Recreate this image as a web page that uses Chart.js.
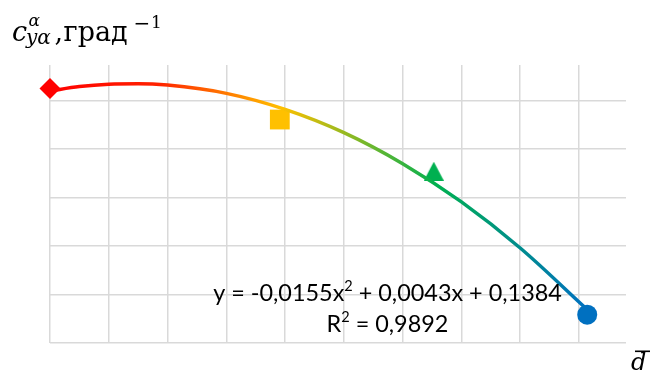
<!DOCTYPE html>
<html>
<head>
<meta charset="utf-8">
<script src="https://cdn.jsdelivr.net/npm/chart.js@4.4.1/dist/chart.umd.min.js"></script>
<style>
  html, body { margin: 0; padding: 0; background: #ffffff; }
  #wrap { width: 652px; height: 380px; }
</style>
</head>
<body>
<div id="wrap"><canvas id="c" width="652" height="380"></canvas></div>
<script>
// ---- data ----
const pointX = [0, 0.391, 0.653, 0.914];
const pointY = [0.1385, 0.13722, 0.13509, 0.12917];
const pointColors = ['#FF0000', '#FFC000', '#00B050', '#0070C0'];

const trendX = [0, 0.05, 0.1, 0.15, 0.2, 0.3, 0.4, 0.5, 0.6, 0.7, 0.8, 0.914];
const trendY = [0.1384, 0.13858, 0.13868, 0.1387, 0.13864, 0.1383, 0.13764, 0.13668, 0.1354, 0.13382, 0.13192, 0.12938];

const xTicks = [0, 0.1, 0.2, 0.3, 0.4, 0.5, 0.6, 0.7, 0.8, 0.9];
const yTicks = [0.128, 0.130, 0.132, 0.134, 0.136, 0.138];

// equation label pieces: [text, isSuperscript]
const equationParts = [['y = -0,0155x', false], ['2', true], [' + 0,0043x + 0,1384', false]];
const r2Parts = [['R', false], ['2', true], [' = 0,9892', false]];

// triangle marker image (centred on its box, like the original)
function triangleImage(w, h, color) {
  const cv = document.createElement('canvas');
  cv.width = w; cv.height = h;
  const g = cv.getContext('2d');
  g.fillStyle = color;
  g.beginPath();
  g.moveTo(w / 2, 0);
  g.lineTo(w, h);
  g.lineTo(0, h);
  g.closePath();
  g.fill();
  return cv;
}

const trendData = trendX.map((x, i) => ({ x: x, y: trendY[i] }));
const pointData = pointX.map((x, i) => ({ x: x, y: pointY[i] }));

function lineGradient(context) {
  const chart = context.chart;
  const area = chart.chartArea;
  if (!area) return '#FF0000';
  const xs = chart.scales.x;
  const x0 = xs.getPixelForValue(trendX[0]);
  const x1 = xs.getPixelForValue(trendX[trendX.length - 1]);
  const g = chart.ctx.createLinearGradient(x0, 0, x1, 0);
  g.addColorStop(0, '#FF0000');
  g.addColorStop(0.2, '#FF2200');
  g.addColorStop(0.43, '#FFC000');
  g.addColorStop(0.72, '#00B050');
  g.addColorStop(1, '#0070C0');
  return g;
}

function partsWidth(ctx, parts, fs) {
  let w = 0;
  parts.forEach(([t, sup]) => {
    ctx.font = (sup ? fs * 0.62 : fs).toFixed(2) + 'px Lato';
    w += ctx.measureText(t).width;
  });
  return w;
}
function drawParts(ctx, parts, fs, cx, base) {
  const total = partsWidth(ctx, parts, fs);
  let x = cx - total / 2;
  parts.forEach(([t, sup]) => {
    ctx.font = (sup ? fs * 0.62 : fs).toFixed(2) + 'px Lato';
    ctx.fillText(t, x, sup ? base - fs * 0.4 : base);
    x += ctx.measureText(t).width;
  });
}

const textPlugin = {
  id: 'texts',
  afterDraw(chart) {
    const ctx = chart.ctx;
    ctx.save();
    ctx.fillStyle = '#000000';
    ctx.textBaseline = 'alphabetic';
    ctx.textAlign = 'left';

    // equation label (fit to measured width)
    const w0 = partsWidth(ctx, equationParts, 20);
    const fs = 20 * 349 / w0;
    drawParts(ctx, equationParts, fs, 387.5, 300.5);
    drawParts(ctx, r2Parts, fs, 387.5, 331.5);

    // y axis title: c^α_{yα}, град^{-1}
    ctx.font = 'italic 27px "DejaVu Serif"';
    ctx.fillText('c', 12, 40.5);
    ctx.font = 'italic 17px "DejaVu Serif"';
    ctx.fillText('α', 28.5, 26);
    ctx.font = 'italic 20px "DejaVu Serif"';
    ctx.fillText('yα', 26, 43.5);
    ctx.font = '27px "DejaVu Serif"';
    ctx.fillText(',', 54.5, 40.5);
    ctx.fillText('град', 63.5, 40.5);
    ctx.font = '20px "DejaVu Serif"';
    ctx.fillText('−', 133.5, 29.5);
    ctx.font = '17px "DejaVu Serif"';
    ctx.fillText('1', 151, 28.3);

    // x axis title: d with bar
    ctx.font = 'italic 24px "DejaVu Serif"';
    ctx.fillText('d', 631, 370);
    ctx.fillRect(635, 350.5, 15, 1.6);
    ctx.restore();
  }
};

new Chart(document.getElementById('c'), {
  type: 'scatter',
  data: {
    datasets: [
      {
        type: 'line',
        data: trendData,
        borderColor: lineGradient,
        borderWidth: 3.5,
        pointRadius: 0,
        fill: false,
        tension: 0.4,
        cubicInterpolationMode: 'monotone',
        clip: false,
        order: 1
      },
      {
        data: pointData,
        showLine: false,
        pointStyle: ['rectRot', 'rect', triangleImage(20, 19, pointColors[2]), 'circle'],
        pointRadius: [10.5, 14, 10, 10],
        backgroundColor: pointColors,
        borderWidth: 0,
        clip: false,
        order: 2
      }
    ]
  },
  options: {
    responsive: false,
    animation: false,
    events: [],
    layout: { padding: { left: 50, right: 26, top: 65, bottom: 37 } },
    plugins: { legend: { display: false }, tooltip: { enabled: false } },
    scales: {
      x: {
        type: 'linear',
        min: 0,
        max: 0.98,
        afterBuildTicks: (s) => { s.ticks = xTicks.map(v => ({ value: v })); },
        ticks: { display: false },
        border: { display: false },
        grid: { color: '#d9d9d9', lineWidth: 1.5, drawTicks: false }
      },
      y: {
        type: 'linear',
        min: 0.128,
        max: 0.13947,
        afterBuildTicks: (s) => { s.ticks = yTicks.map(v => ({ value: v })); },
        ticks: { display: false },
        border: { display: false },
        grid: { color: '#d9d9d9', lineWidth: 1.5, drawTicks: false }
      }
    }
  },
  plugins: [textPlugin]
});
</script>
</body>
</html>
